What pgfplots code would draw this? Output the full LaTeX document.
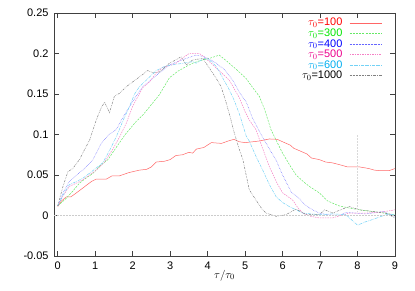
\documentclass[border=0pt]{standalone}
\usepackage{pgfplots}
\pgfplotsset{compat=1.18}
\usepackage{fontspec}
\setmainfont{Liberation Sans}
\newcommand{\lf}{\fontsize{11}{11}\selectfont}
\begin{document}
\begin{tikzpicture}
\useasboundingbox (-54bp,-35bp) rectangle (361bp,256bp);
\begin{axis}[
  at={(0,0)}, anchor=south west,
  scale only axis, width=341bp, height=243bp,
  xmin=-0.1, xmax=9, ymin=-0.05, ymax=0.25,
  xtick={0,1,...,9},
  ytick={-0.05,0,0.05,0.1,0.15,0.2,0.25},
  yticklabels={-0.05,0,0.05,0.1,0.15,0.2,0.25},
  /pgf/number format/assume math mode=true,
  tick label style={font=\fontsize{11}{13}\selectfont},
  xticklabel style={yshift=-2bp},
  yticklabel style={xshift=-2bp},
  axis line style={black!75, line width=0.6pt},
  major tick style={black!75, line width=0.6pt},
  major tick length=5bp,
  xlabel={$\tau/\tau_0$},
  xlabel style={font=\fontsize{11}{13}\selectfont, yshift=6bp},
  legend style={at={(rel axis cs:0.962,0.979)}, anchor=north east, draw=none, fill=none,
    row sep=1.4bp, column sep=7bp, inner sep=0pt,
    nodes={inner sep=0pt, font=\lf}},
  legend cell align=right,
  legend plot pos=right,
  legend image code/.code={\draw[#1] plot coordinates {(0bp,0bp) (32bp,0bp)};},
  every axis plot/.append style={line width=0.5pt},
]
\addplot[red!60, solid] coordinates {
(0,0.011)(0.1,0.018)(0.23,0.023)(0.35,0.023)(0.5,0.028)(0.7,0.035)(0.9,0.042)(1.03,0.045)(1.3,0.045)(1.45,0.049)(1.65,0.049)(1.9,0.053)(2.18,0.056)(2.37,0.057)(2.5,0.060)(2.63,0.066)(2.85,0.067)(3.0,0.069)(3.15,0.074)(3.33,0.075)(3.5,0.078)(3.6,0.077)(3.7,0.082)(3.9,0.084)(4.1,0.090)(4.37,0.089)(4.55,0.092)(4.7,0.094)(4.85,0.091)(5.0,0.090)(5.2,0.091)(5.38,0.092)(5.65,0.0945)(5.86,0.094)(6.05,0.090)(6.2,0.087)(6.3,0.083)(6.5,0.079)(6.65,0.076)(6.77,0.071)(6.98,0.069)(7.15,0.066)(7.33,0.065)(7.5,0.063)(7.73,0.060)(8.05,0.060)(8.3,0.058)(8.45,0.056)(8.58,0.0555)(8.85,0.0555)(9,0.058)};
\addlegendentry{\lf\textcolor{red}{$\tau_0$=100}}
\addplot[green!85!black!60!white, dash pattern=on 2pt off 1.2pt] coordinates {
(0,0.012)(0.2,0.020)(0.4,0.030)(0.58,0.040)(0.75,0.046)(0.94,0.052)(1.1,0.060)(1.2,0.064)(1.34,0.069)(1.56,0.084)(1.8,0.100)(2.09,0.116)(2.27,0.124)(2.5,0.137)(2.71,0.149)(2.98,0.170)(3.2,0.178)(3.43,0.184)(3.6,0.188)(3.78,0.191)(4.05,0.194)(4.31,0.198)(4.5,0.191)(4.75,0.181)(5.03,0.169)(5.2,0.158)(5.38,0.147)(5.52,0.131)(5.69,0.106)(5.87,0.089)(6.0,0.077)(6.18,0.063)(6.36,0.050)(6.55,0.042)(6.71,0.036)(6.98,0.028)(7.2,0.018)(7.5,0.012)(7.8,0.009)(8.05,0.007)(8.4,0.005)(8.7,0.003)(9,0.001)};
\addlegendentry{\lf\textcolor{green!90!black}{$\tau_0$=300}}
\addplot[blue!60, densely dotted] coordinates {
(0,0.012)(0.14,0.028)(0.31,0.042)(0.5,0.050)(0.67,0.056)(0.94,0.069)(1.15,0.088)(1.34,0.099)(1.56,0.106)(1.75,0.122)(1.91,0.134)(2.1,0.148)(2.27,0.159)(2.45,0.166)(2.63,0.173)(2.8,0.179)(2.98,0.186)(3.2,0.190)(3.43,0.194)(3.69,0.198)(3.91,0.196)(4.05,0.193)(4.23,0.188)(4.45,0.180)(4.67,0.167)(4.85,0.152)(5.03,0.140)(5.2,0.120)(5.38,0.104)(5.6,0.086)(5.83,0.068)(6.0,0.050)(6.23,0.029)(6.45,0.021)(6.6,0.013)(6.8,0.007)(6.98,0.003)(7.2,0.001)(7.51,0.000)(7.7,0.004)(7.96,0.003)(8.2,0.002)(8.4,0.003)(8.67,0.005)(9,-0.001)};
\addlegendentry{\lf\textcolor{blue}{$\tau_0$=400}}
\addplot[magenta!50, dash pattern=on 1.5pt off 1pt] coordinates {
(0,0.012)(0.15,0.025)(0.31,0.036)(0.5,0.040)(0.67,0.044)(0.85,0.050)(1.03,0.056)(1.25,0.066)(1.47,0.082)(1.65,0.097)(1.83,0.114)(2.0,0.135)(2.27,0.158)(2.45,0.165)(2.63,0.176)(2.8,0.183)(2.98,0.185)(3.16,0.188)(3.35,0.195)(3.51,0.200)(3.78,0.200)(3.9,0.196)(4.14,0.186)(4.35,0.177)(4.58,0.167)(4.85,0.145)(5.0,0.128)(5.11,0.118)(5.29,0.106)(5.45,0.085)(5.65,0.060)(5.85,0.040)(6.0,0.028)(6.27,0.019)(6.4,0.010)(6.54,0.003)(6.75,-0.001)(6.98,-0.003)(7.33,-0.003)(7.55,0.000)(7.78,0.003)(8.23,0.003)(8.6,0.004)(9,0.007)};
\addlegendentry{\lf\textcolor{magenta}{$\tau_0$=500}}
\addplot[cyan!55, dash pattern=on 3pt off 1pt on 0.6pt off 1pt] coordinates {
(0,0.012)(0.15,0.026)(0.31,0.038)(0.5,0.042)(0.67,0.046)(0.9,0.054)(1.2,0.065)(1.38,0.080)(1.56,0.097)(1.75,0.118)(1.91,0.134)(2.05,0.150)(2.18,0.159)(2.45,0.171)(2.63,0.179)(2.85,0.184)(3.07,0.186)(3.34,0.188)(3.6,0.190)(3.69,0.188)(3.91,0.194)(4.05,0.192)(4.23,0.184)(4.4,0.170)(4.58,0.155)(4.71,0.142)(4.85,0.125)(5.03,0.098)(5.11,0.092)(5.3,0.072)(5.47,0.056)(5.65,0.038)(5.83,0.023)(6.0,0.016)(6.18,0.011)(6.54,0.003)(6.98,0.001)(7.33,0.002)(7.69,0.001)(8.0,-0.012)(8.2,-0.008)(8.4,-0.005)(8.76,0.001)(9,0.001)};
\addlegendentry{\lf\textcolor{cyan}{$\tau_0$=600}}
\addplot[black!50, dash pattern=on 2pt off 1pt on 0.6pt off 1pt on 0.6pt off 1pt] coordinates {
(0,0.012)(0.14,0.036)(0.27,0.054)(0.4,0.058)(0.58,0.069)(0.7,0.080)(0.85,0.093)(1.03,0.118)(1.15,0.132)(1.25,0.140)(1.38,0.127)(1.51,0.147)(1.65,0.151)(1.83,0.159)(2.0,0.165)(2.18,0.171)(2.4,0.179)(2.55,0.176)(2.71,0.177)(2.98,0.188)(3.15,0.192)(3.29,0.196)(3.43,0.186)(3.6,0.192)(3.87,0.194)(4.09,0.179)(4.22,0.170)(4.36,0.159)(4.49,0.140)(4.6,0.122)(4.71,0.102)(4.85,0.081)(4.94,0.069)(5.11,0.032)(5.29,0.019)(5.45,0.008)(5.56,0.003)(5.83,-0.001)(6.09,0.001)(6.36,0.008)(6.63,0.001)(6.98,0.001)(7.12,0.007)(7.34,0.003)(7.6,0.008)(7.78,0.011)(8.05,0.007)(8.4,0.005)(8.76,0.003)(9,-0.003)};
\addlegendentry{\lf\textcolor{black}{$\tau_0$=1000}}
\addplot[black!20, densely dotted, forget plot] coordinates {(-0.1,0)(9,0)};
\addplot[black!15, densely dotted, forget plot] coordinates {(8,0.005)(8,0.1)};
\end{axis}
\end{tikzpicture}
\end{document}
